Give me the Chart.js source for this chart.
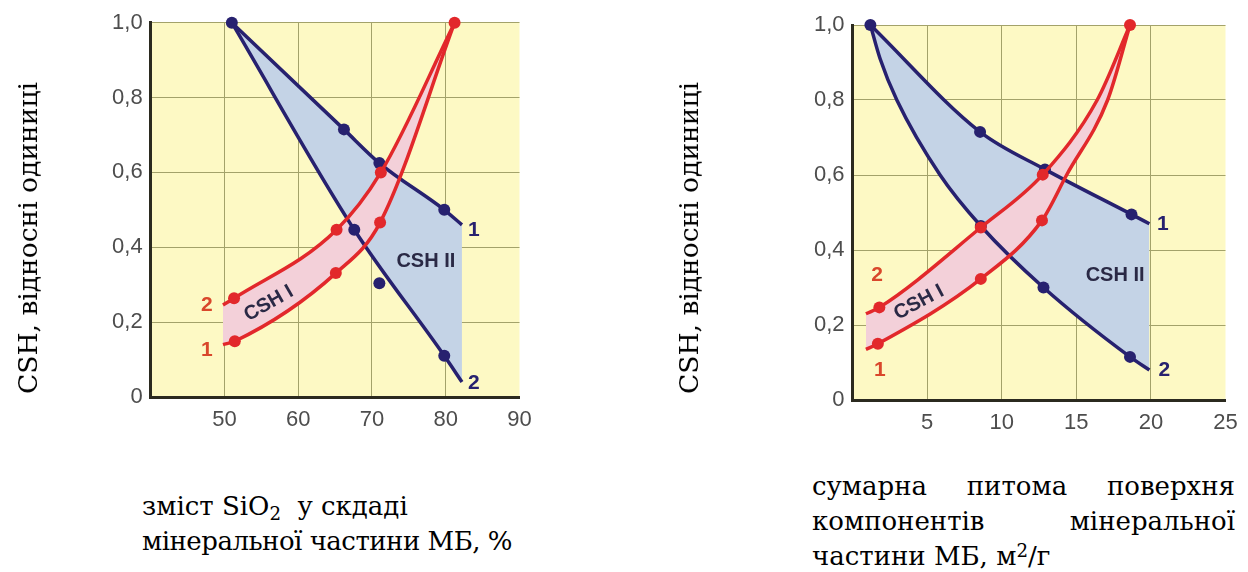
<!DOCTYPE html>
<html><head><meta charset="utf-8">
<script src="https://cdn.jsdelivr.net/npm/chart.js@4/dist/chart.umd.min.js"></script>
<style>
html,body{margin:0;padding:0;background:#fff;width:1248px;height:572px;overflow:hidden;position:relative;}
canvas{position:absolute;top:0;}
.t{position:absolute;font-family:"DejaVu Serif",serif;font-size:26px;color:#000;white-space:nowrap;line-height:28px;}
.yt{transform:translate(-50%,-50%) rotate(-90deg);font-size:26.5px;}
.j{text-align:justify;text-align-last:justify;width:423px;white-space:normal;}
sub{font-size:70%;vertical-align:-0.25em;line-height:0;}
sup{font-size:70%;vertical-align:0.45em;line-height:0;}
</style></head><body>
<canvas id="cA" width="600" height="440" style="left:0"></canvas>
<canvas id="cB" width="608" height="440" style="left:640px"></canvas>
<div class="t yt" style="left:28px;top:238px">CSH, відносні одиниці</div>
<div class="t yt" style="left:689px;top:238px">CSH, відносні одиниці</div>
<div class="t" style="left:142px;top:492px">зміст SiO<sub>2</sub>&nbsp; у скдаді</div>
<div class="t" style="left:142px;top:527px;letter-spacing:-0.5px">мінеральної частини МБ, %</div>
<div class="t j" style="left:812px;top:472px">сумарна питома поверхня</div>
<div class="t j" style="left:812px;top:507px">компонентів мінеральної</div>
<div class="t" style="left:812px;top:542px">частини МБ, м<sup>2</sup>/г</div>
<script>
// ---------- data: left chart (SiO2 content, %) ----------
const xTicksA = [50, 60, 70, 80, 90];
const xTickLabelsA = ['50', '60', '70', '80', '90'];
const redA1Curve = [[49.8,0.14],[51.4,0.149],[65.1,0.331],[71.1,0.466],[81.2,1.0]];
const redA2Curve = [[49.8,0.246],[51.3,0.264],[65.2,0.447],[71.2,0.6],[81.2,1.0]];
const blueA1Curve = [[51,1.0],[66.2,0.715],[71,0.625],[79.8,0.5],[82.2,0.46]];
const blueA2Curve = [[51,1.0],[67.6,0.447],[79.8,0.11],[82.2,0.04]];
const redAMarkers = [[51.4,0.149],[65.1,0.331],[71.1,0.466],[81.2,1.0],[51.3,0.264],[65.2,0.447],[71.2,0.6]];
const blueAMarkers = [[51,1.0],[66.2,0.715],[71,0.625],[79.8,0.5],[67.6,0.447],[71,0.304],[79.8,0.11]];

// ---------- data: right chart (specific surface, m2/g) ----------
const xTicksB = [5, 10, 15, 20, 25];
const xTickLabelsB = ['5', '10', '15', '20', '25'];
const redB1Curve = [[0.9,0.135],[1.7,0.15],[8.6,0.323],[12.7,0.479],[14.35,0.6],[17.1,0.8],[18.6,1.0]];
const redB2Curve = [[0.9,0.23],[1.8,0.247],[8.6,0.46],[12.75,0.601],[16.4,0.8],[18.6,1.0]];
const blueB1Curve = [[1.2,1.0],[8.55,0.715],[12.9,0.615],[18.7,0.495],[19.9,0.47]];
const blueB2Curve = [[1.2,1.0],[1.85,0.91],[2.97,0.8],[5.87,0.6],[8.6,0.464],[12.8,0.30],[18.6,0.115],[19.9,0.08]];
const redBMarkers = [[1.7,0.15],[8.6,0.323],[12.7,0.479],[18.6,1.0],[1.8,0.247],[8.6,0.46],[12.75,0.601]];
const blueBMarkers = [[1.2,1.0],[8.55,0.715],[12.9,0.615],[18.7,0.495],[8.6,0.464],[12.8,0.30],[18.6,0.115]];

// ---------- shared y axis ----------
const yTicks = [0, 0.2, 0.4, 0.6, 0.8, 1.0];
const yTickLabels = ['0', '0,2', '0,4', '0,6', '0,8', '1,0'];

// ---------- in-plot labels ----------
const labelsA = [
  {text:'1', x:83.8, y:0.445, kind:'blue'}, {text:'2', x:83.8, y:0.037, kind:'blue'},
  {text:'2', x:47.6, y:0.246, kind:'red'}, {text:'1', x:47.6, y:0.126, kind:'red'},
  {text:'CSH I', x:56.0, y:0.25, kind:'csh', angle:-30}, {text:'CSH II', x:77.3, y:0.361, kind:'csh', angle:0}
];
const labelsB = [
  {text:'1', x:20.8, y:0.47, kind:'blue'}, {text:'2', x:20.9, y:0.079, kind:'blue'},
  {text:'2', x:1.65, y:0.333, kind:'red'}, {text:'1', x:1.84, y:0.079, kind:'red'},
  {text:'CSH I', x:4.46, y:0.26, kind:'csh', angle:-28}, {text:'CSH II', x:17.6, y:0.333, kind:'csh', angle:0}
];

// ---------- styles ----------
const NAVY = '#27216f', RED = '#e2282b', PINK = '#f3d0d9', BLUEFILL = '#c4d3e6';
const YELLOW = '#fdf9c4', GRID = '#a3a26a', AXIS = '#2b2a1f', TICK = '#4d4d4d';
const labelStyle = {
  blue: {font:'bold 21px "Liberation Sans", Arial, sans-serif', color:'#27216f'},
  red: {font:'bold 21px "Liberation Sans", Arial, sans-serif', color:'#d9472b'},
  csh: {font:'bold 20px "Liberation Sans", Arial, sans-serif', color:'#2a2945'}
};

const pts = a => a.map(p => ({x:p[0], y:p[1]}));

const bgPlugin = {
  id:'bg',
  beforeDraw(chart){
    const {ctx, chartArea:a} = chart;
    ctx.save(); ctx.fillStyle = YELLOW; ctx.fillRect(a.left, a.top, a.right-a.left, a.bottom-a.top); ctx.restore();
  }
};
const textPlugin = {
  id:'txt',
  afterDatasetsDraw(chart, args, opts){
    const {ctx} = chart, xs = chart.scales.x, ys = chart.scales.y;
    (opts.items||[]).forEach(it => {
      const st = labelStyle[it.kind];
      ctx.save();
      ctx.translate(xs.getPixelForValue(it.x), ys.getPixelForValue(it.y));
      ctx.rotate((it.angle||0)*Math.PI/180);
      ctx.font = st.font; ctx.fillStyle = st.color; ctx.textAlign='center'; ctx.textBaseline='middle';
      ctx.fillText(it.text, 0, 0);
      ctx.restore();
    });
  }
};

function lineDs(data, color, fill, fillColor, order){
  return {data: pts(data), borderColor: color, borderWidth: 3.5, pointRadius: 0, fill: fill,
    backgroundColor: fillColor || 'transparent', cubicInterpolationMode:'monotone', clip:false, order};
}
function markerDs(data, color, order){
  return {data: pts(data), showLine:false, pointRadius:6, pointBackgroundColor:color, pointBorderWidth:0,
    borderColor:color, fill:false, clip:false, order};
}

function makeChart(id, g){
  return new Chart(document.getElementById(id), {
    type:'line',
    data:{datasets:[
      lineDs(g.red1, RED, 1, PINK, 1),
      lineDs(g.red2, RED, false, null, 1),
      lineDs(g.blue1, NAVY, 3, BLUEFILL, 3),
      lineDs(g.blue2, NAVY, false, null, 3),
      markerDs(g.redM, RED, 0),
      markerDs(g.blueM, NAVY, 2)
    ]},
    options:{
      responsive:false, animation:false, devicePixelRatio:1, events:[],
      layout:{padding:g.pad},
      plugins:{legend:{display:false}, tooltip:{enabled:false}, filler:{drawTime:'beforeDatasetsDraw'}, txt:{items:g.labels}},
      scales:{
        x:{type:'linear', min:g.xmin, max:g.xmax,
          afterBuildTicks: s => { s.ticks = g.xTicks.map(v => ({value:v})); },
          afterFit: s => { s.height = 40; },
          grid:{drawTicks:false, lineWidth:1, color: c => (c.tick && c.tick.value >= g.xmax) ? 'rgba(0,0,0,0)' : GRID},
          border:{display:true, color:AXIS, width:3},
          ticks:{padding:10, color:TICK, font:{family:'"Liberation Sans", Arial, sans-serif', size:22}, maxRotation:0,
            callback:(v,i) => g.xLabels[i]}},
        y:{type:'linear', min:0, max:1,
          afterBuildTicks: s => { s.ticks = yTicks.map(v => ({value:v})); },
          afterFit: s => { s.width = g.yw; },
          grid:{drawTicks:false, lineWidth:1, color:GRID},
          border:{display:true, color:AXIS, width:3},
          ticks:{padding:8, color:TICK, font:{family:'"Liberation Sans", Arial, sans-serif', size:22},
            callback:(v,i) => yTickLabels[i]}}
      }
    },
    plugins:[bgPlugin, textPlugin]
  });
}

makeChart('cA', {red1:redA1Curve, red2:redA2Curve, blue1:blueA1Curve, blue2:blueA2Curve, redM:redAMarkers, blueM:blueAMarkers,
  xmin:40, xmax:90, xTicks:xTicksA, xLabels:xTickLabelsA, labels:labelsA, yw:150.7,
  pad:{left:0, top:22.7, right:80.5, bottom:3}});
makeChart('cB', {red1:redB1Curve, red2:redB2Curve, blue1:blueB1Curve, blue2:blueB2Curve, redM:redBMarkers, blueM:blueBMarkers,
  xmin:0, xmax:25, xTicks:xTicksB, xLabels:xTickLabelsB, labels:labelsB, yw:212.5,
  pad:{left:0, top:25, right:22.5, bottom:0}});
</script>
</body></html>
